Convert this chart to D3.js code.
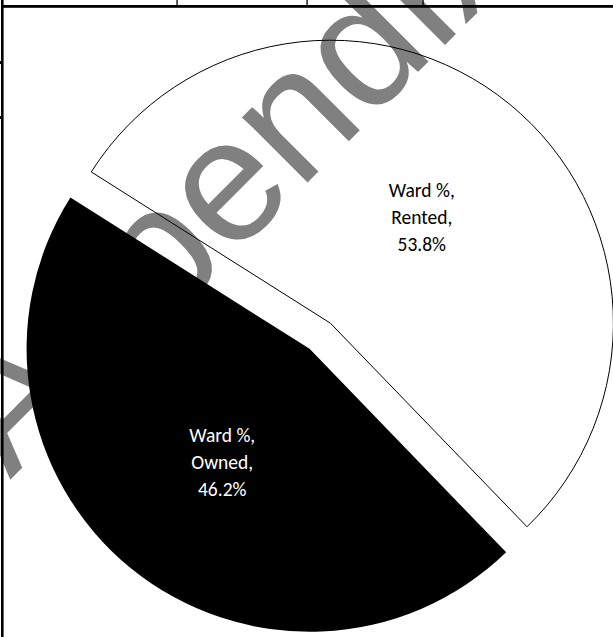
<!DOCTYPE html>
<html>
<head>
<meta charset="utf-8">
<script src="https://cdn.jsdelivr.net/npm/d3@7"></script>
<style>
  html, body { margin: 0; padding: 0; background: #fff; }
  svg { display: block; }
</style>
</head>
<body>
<svg id="chart" width="613" height="637"></svg>
<script>
// ---- data ----
const categories = ["Owned", "Rented"];
const seriesName = "Ward %";
const values = [46.2, 53.8];
const labelTexts = ["46.2%", "53.8%"];
const watermarkText = "Appendix";

const W = 613, H = 637;
const svg = d3.select("#chart");

// ---- watermark (behind the chart) ----
svg.append("text")
  .attr("transform", "translate(10,480) rotate(-45)")
  .attr("text-anchor", "start")
  .attr("font-family", "Liberation Sans, Arial, sans-serif")
  .attr("font-size", 175)
  .attr("fill", "#808080")
  .text(watermarkText);

// ---- table borders ----
const borders = svg.append("g").attr("fill", "#000");
borders.append("rect").attr("x", 1).attr("y", 0).attr("width", 2.6).attr("height", H);
borders.append("rect").attr("x", 1).attr("y", 5).attr("width", W).attr("height", 2.8);
[177, 307, 423].forEach(x => borders.append("rect").attr("x", x - 0.6).attr("y", 0).attr("width", 1.3).attr("height", 6));
[61, 116].forEach(y => borders.append("rect").attr("x", 0).attr("y", y).attr("width", 3).attr("height", 3));

// ---- pie ----
const cx = 320, cy = 336, r = 283, explode = 16.5;
const startDeg = 136.0;
const pie = d3.pie().sort(null).value(d => d)
  .startAngle(startDeg * Math.PI / 180)
  .endAngle((startDeg + 360) * Math.PI / 180);
const arcs = pie(values);
const arc = d3.arc().innerRadius(0).outerRadius(r);

const fills = ["#000", "none"];
const strokes = ["none", "#000"];
const textColors = ["#fff", "#000"];

const g = svg.append("g").attr("transform", `translate(${cx},${cy})`);
arcs.forEach((a, i) => {
  const mid = (a.startAngle + a.endAngle) / 2;
  const dx = explode * Math.sin(mid), dy = -explode * Math.cos(mid);
  const sg = g.append("g").attr("transform", `translate(${dx},${dy})`);
  sg.append("path")
    .attr("d", arc(a))
    .attr("fill", fills[i])
    .attr("stroke", strokes[i])
    .attr("stroke-width", 1);
  const [lx, ly] = arc.centroid(a);
  const lines = [seriesName + ",", categories[i] + ",", labelTexts[i]];
  const t = sg.append("text")
    .attr("text-anchor", "middle")
    .attr("font-family", "Carlito, Calibri, Lato, 'Open Sans', sans-serif")
    .attr("font-size", 19.5)
    .attr("fill", textColors[i]);
  lines.forEach((s, k) => {
    t.append("tspan").attr("x", lx + 2).attr("y", ly + (k - 1) * 26.8 + 10.5).text(s);
  });
});
</script>
</body>
</html>
